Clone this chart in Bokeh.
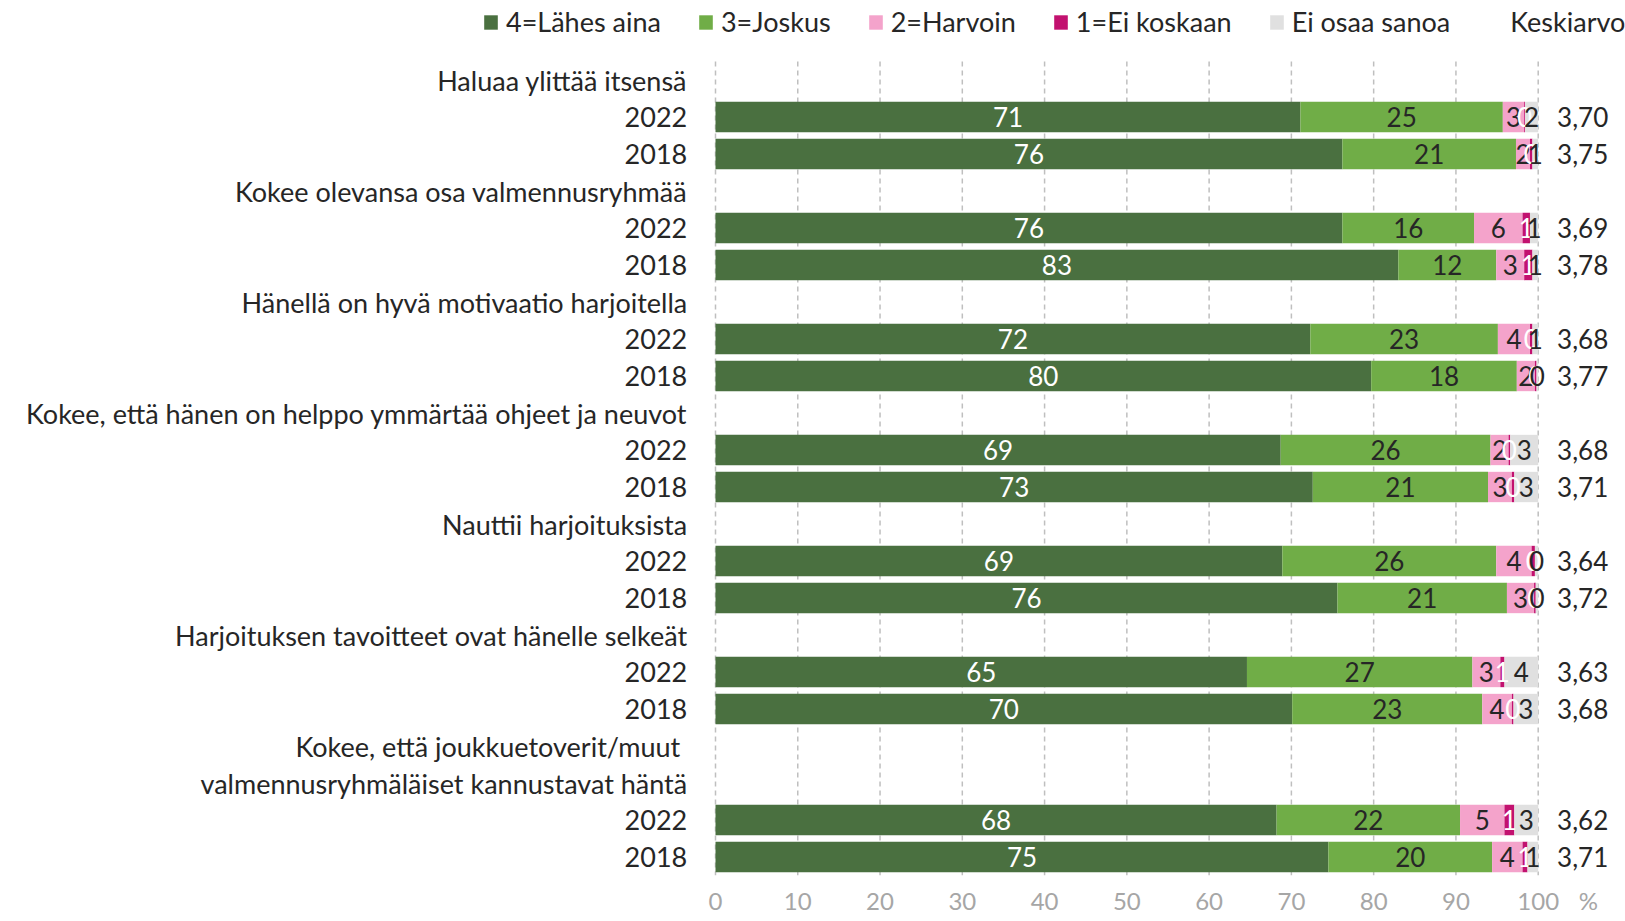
import math
import numpy as np
from bokeh.plotting import figure
from bokeh.models import ColumnDataSource, Range1d, FixedTicker, Legend, LegendItem
from bokeh.core.properties import value
from bokeh.embed import file_html
from bokeh.resources import INLINE

# ---------------- data ----------------
row_labels = [
    "Haluaa ylittää itsensä", "2022", "2018",
    "Kokee olevansa osa valmennusryhmää", "2022", "2018",
    "Hänellä on hyvä motivaatio harjoitella", "2022", "2018",
    "Kokee, että hänen on helppo ymmärtää ohjeet ja neuvot", "2022", "2018",
    "Nauttii harjoituksista", "2022", "2018",
    "Harjoituksen tavoitteet ovat hänelle selkeät", "2022", "2018",
    "Kokee, että joukkuetoverit/muut ", "valmennusryhmäläiset kannustavat häntä", "2022", "2018",
]
bar_rows = [1, 2, 4, 5, 7, 8, 10, 11, 13, 14, 16, 17, 20, 21]

series_names = ["4=Lähes aina", "3=Joskus", "2=Harvoin", "1=Ei koskaan", "Ei osaa sanoa"]
lahes_aina = [71.1, 76.2, 76.2, 83.0, 72.3, 79.7, 68.7, 72.6, 68.9, 75.6, 64.6, 70.1, 68.2, 74.5]
joskus     = [24.6, 21.1, 16.0, 11.9, 22.8, 17.7, 25.5, 21.3, 26.0, 20.6, 27.4, 23.1, 22.3, 19.9]
harvoin    = [2.6, 1.7, 5.9, 3.4, 3.9, 2.2, 2.2, 2.9, 4.3, 3.3, 3.4, 3.6, 5.4, 3.7]
ei_koskaan = [0.1, 0.3, 0.9, 1.0, 0.3, 0.2, 0.2, 0.3, 0.4, 0.2, 0.5, 0.2, 1.2, 0.6]
ei_osaa    = [1.6, 0.7, 1.0, 0.7, 0.7, 0.2, 3.4, 2.9, 0.4, 0.3, 4.1, 3.0, 2.9, 1.3]
keskiarvo_label = "Keskiarvo"
keskiarvo  = ["3,70", "3,75", "3,69", "3,78", "3,68", "3,77", "3,68", "3,71",
              "3,64", "3,72", "3,63", "3,68", "3,62", "3,71"]

x_ticks = [0, 10, 20, 30, 40, 50, 60, 70, 80, 90, 100]

# ---------------- styles / layout ----------------
colors = ["#4A7040", "#70AD47", "#F4A3CB", "#C2116F", "#E0E0E0"]
label_colors = ["#FFFFFF", "#262626", "#262626", "#FFFFFF", "#262626"]
FONT = "Lato"
FS_NUM = "26px"
FS_TXT = "27px"
TXT = "#262626"
W, H = 1625, 921
PX_PER_UNIT = 8.227          # horizontal scale (px per percentage point)
ZERO_X = 715                 # canvas x of the 0 % line
ROW_PX = 37.0                # row pitch
TOP_PAD = 61                 # space above first row slot (legend strip)
BOTTOM = 46                  # space for the x axis labels

x_start = -ZERO_X / PX_PER_UNIT
x_end = (W - ZERO_X) / PX_PER_UNIT
n_rows = len(row_labels)
y_top = -0.5 - TOP_PAD / ROW_PX

p = figure(width=W, height=H, output_backend="svg", toolbar_location=None,
           x_range=Range1d(x_start, x_end), y_range=Range1d(n_rows - 0.5, y_top),
           min_border_left=0, min_border_right=0, min_border_top=0,
           min_border_bottom=BOTTOM)
p.outline_line_color = None
p.background_fill_color = "white"
p.yaxis.visible = False
p.xgrid.grid_line_color = None
p.ygrid.grid_line_color = None

# vertical dashed gridlines over the bar area only
gsrc = ColumnDataSource(dict(x=x_ticks, y0=[-0.5] * len(x_ticks), y1=[n_rows - 0.5] * len(x_ticks)))
p.segment(x0="x", y0="y0", x1="x", y1="y1", source=gsrc, line_color="#BFBFBF",
          line_dash="5 4", line_width=1.5)

series = [lahes_aina, joskus, harvoin, ei_koskaan, ei_osaa]


def rounded(v):
    return [str(int(math.floor(x + 0.5 + 1e-9))) for x in v]


left = np.zeros(len(bar_rows))
renderers = []
label_sources = []
for k, vals in enumerate(series):
    v = np.array(vals, dtype=float)
    right = left + v
    src = ColumnDataSource(dict(y=bar_rows, left=left.copy(), right=right.copy()))
    r = p.hbar(y="y", left="left", right="right", height=0.82, source=src,
               fill_color=colors[k], line_color=None)
    renderers.append(r)
    label_sources.append(ColumnDataSource(dict(
        y=bar_rows, mid=(left + right) / 2, label=rounded(v))))
    left = right

# data labels
for k, lsrc in enumerate(label_sources):
    p.text(x="mid", y="y", text="label", source=lsrc, text_align="center",
           text_baseline="middle", text_color=label_colors[k],
           text_font=value(FONT), text_font_size=value(FS_NUM))

# category / year labels (right-aligned left of the 0 line)
rsrc = ColumnDataSource(dict(y=list(range(n_rows)), t=row_labels,
                             x=[-28.3 / PX_PER_UNIT] * n_rows))
p.text(x="x", y="y", text="t", source=rsrc, text_align="right", text_baseline="middle",
       text_color=TXT, text_font=value(FONT), text_font_size=value(FS_TXT))

# Keskiarvo column
msrc = ColumnDataSource(dict(y=bar_rows, x=[102.3] * len(bar_rows), t=keskiarvo,
                             z=[100] * len(bar_rows)))
p.text(x="x", y="y", text="t", source=msrc, text_align="left", text_baseline="middle",
       text_color=TXT, text_font=value(FONT), text_font_size=value(FS_NUM))
mean_swatch = p.hbar(y="y", left="z", right="z", height=0.1, source=msrc,
                     fill_alpha=0, line_alpha=0)

# x axis
p.xaxis.ticker = FixedTicker(ticks=x_ticks + [106.1])
p.xaxis.major_label_overrides = {106.1: "%"}
p.xaxis.axis_line_color = None
p.xaxis.major_tick_line_color = None
p.xaxis.minor_tick_line_color = None
p.xaxis.major_tick_out = 0
p.xaxis.major_label_text_color = "#A6A6A6"
p.xaxis.major_label_text_font = FONT
p.xaxis.major_label_text_font_size = "24px"
p.xaxis.major_label_standoff = 10

# legend (inside the plot frame, in the strip above the first row)
items = [LegendItem(label=n, renderers=[r])
         for n, r in zip(series_names + [keskiarvo_label], renderers + [mean_swatch])]
legend = Legend(items=items, orientation="horizontal", location=(482, H - BOTTOM - 38),
                label_text_font=FONT, label_text_font_size=FS_TXT, label_text_color=TXT,
                glyph_width=17, glyph_height=18, label_standoff=7, spacing=36,
                padding=0, margin=0, border_line_alpha=0, background_fill_alpha=0)
p.add_layout(legend, "center")

open("out.html", "w").write(file_html(p, INLINE))
